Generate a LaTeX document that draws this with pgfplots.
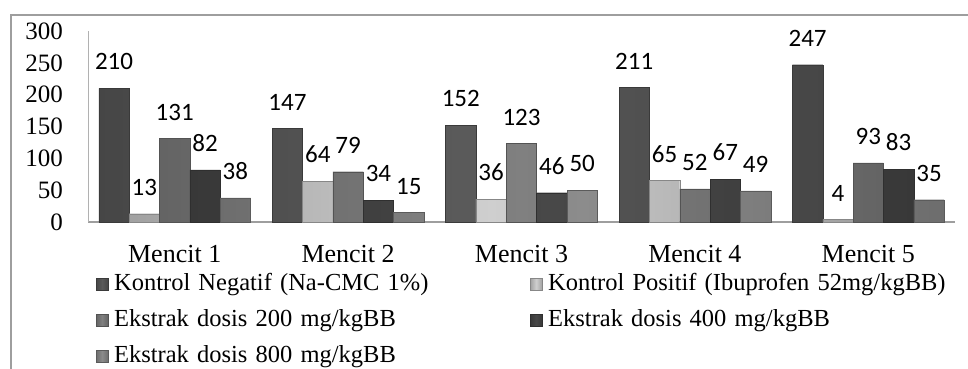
\documentclass[border=0pt]{standalone}
\usepackage{fontspec}
\setmainfont{Liberation Serif}
\newfontfamily\calib{Carlito}
\usepackage{pgfplots}
\pgfplotsset{compat=1.18}
\definecolor{sA}{HTML}{5A5A5A}
\definecolor{sB}{HTML}{CFCFCF}
\definecolor{sC}{HTML}{808080}
\definecolor{sD}{HTML}{484848}
\definecolor{sE}{HTML}{8C8C8C}
\definecolor{frame}{HTML}{9E9E9E}
\pgfplotsset{
  bevel/.style={left color=#1!78!black, right color=#1!78!black, middle color=#1, draw=#1!65!black, line width=0.4pt},
}
\begin{document}
\begin{tikzpicture}[x=1pt,y=1pt]
\path[use as bounding box] (0,0) rectangle (968,369);
\draw[frame, line width=1.8pt] (11,-5) -- (11,354) -- (975,354);
\begin{axis}[
  at={(88pt,147pt)}, anchor=south west,
  scale only axis, width=867pt, height=191pt,
  xmin=-0.5, xmax=4.5, ymin=0, ymax=300,
  enlargelimits=false, clip=false,
  axis x line*=bottom, axis y line*=left,
  x axis line style={draw=frame, line width=1.6pt},
  y axis line style={draw=frame!80, line width=0.8pt},
  major tick length=0pt,
  ybar, bar width=0.175,
  ytick={0,50,...,300},
  xtick={0,1,2,3,4},
  xticklabels={Mencit 1,Mencit 2,Mencit 3,Mencit 4,Mencit 5},
  /pgf/number format/assume math mode=true,
  yticklabel style={font=\fontsize{25}{25}\selectfont, anchor=east, inner sep=0pt, xshift=-25pt},
  xticklabel style={font=\fontsize{26}{26}\selectfont, anchor=north, inner sep=0pt, yshift=-23pt},
  nodes near coords,
  every node near coord/.append style={font=\calib\fontsize{25}{25}\selectfont, anchor=south, inner sep=0pt, yshift=18pt, text=black},
  legend columns=2,
  legend image code/.code={\draw[#1, line width=0.2pt] (0pt,0pt) rectangle (12pt,12pt); \path[draw=none,fill=none] (12pt,0pt) -- (18pt,0pt);},
  legend style={draw=none, fill=none, at={(axis description cs:0.00923,-0.2618)}, anchor=north west,
    inner sep=0pt, outer sep=0pt, row sep=12pt, column sep=0pt,
    font=\fontsize{24.5}{24.5}\selectfont,
    cells={anchor=base west},
    nodes={inner sep=0pt, text width=416pt, text height=18pt, text depth=6pt, anchor=base west, align=left}},
]
\addplot[bevel=sA, bar shift=-0.35] coordinates {(0,210) (1,147) (2,152) (3,211) (4,247)};
\addplot[bevel=sB, bar shift=-0.175] coordinates {(0,13) (1,64) (2,36) (3,65) (4,4)};
\addplot[bevel=sC, bar shift=0] coordinates {(0,131) (1,79) (2,123) (3,52) (4,93)};
\addplot[bevel=sD, bar shift=0.175] coordinates {(0,82) (1,34) (2,46) (3,67) (4,83)};
\addplot[bevel=sE, bar shift=0.35] coordinates {(0,38) (1,15) (2,50) (3,49) (4,35)};
\legend{Kontrol Negatif (Na-CMC 1\%),Kontrol Positif (Ibuprofen 52mg/kgBB),Ekstrak dosis 200 mg/kgBB,Ekstrak dosis 400 mg/kgBB,Ekstrak dosis 800 mg/kgBB}
\end{axis}
\end{tikzpicture}
\end{document}
